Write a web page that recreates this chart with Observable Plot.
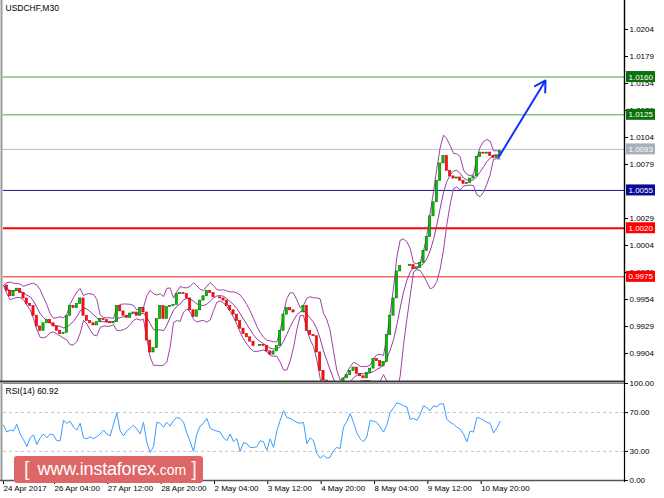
<!DOCTYPE html>
<html><head><meta charset="utf-8">
<script src="https://cdn.jsdelivr.net/npm/d3@7"></script>
<script src="https://cdn.jsdelivr.net/npm/@observablehq/plot@0.6"></script>
<style>
html,body{margin:0;padding:0;background:#fff;}
#chart{position:relative;width:664px;height:498px;overflow:hidden;font-family:"Liberation Sans",Arial,sans-serif;background:#fff;}
#chart svg{position:absolute;left:0;}
g[aria-label^="x-axis"] text{text-anchor:start;}
#wm{position:absolute;left:14px;top:456px;width:189px;height:27px;background:rgb(222,102,102);border-radius:3px;color:#fff;
  font-family:"Liberation Sans",Arial,sans-serif;display:flex;align-items:center;white-space:nowrap;}
#wm .b{font-size:20px;font-weight:300;opacity:.9;margin:0 8px 0 10px;}
#wm .b2{font-size:20px;opacity:.9;margin-left:5px;}
#wm .u{font-size:18px;letter-spacing:-0.2px;}
#wm .c{font-size:14px;}
</style></head><body><div id="chart"></div><script>
// ---------- data ----------
const symbolTitle = "USDCHF,M30";
const rsiTitle = "RSI(14) 60.92";
// closes of 2-hour bars
const closes = [0.9967,0.9962,0.9957,0.9962,0.9964,0.9960,0.9955,0.9950,0.9948,0.9939,
0.9929,0.9925,0.9932,0.9935,0.9932,0.9929,0.9925,0.9922,0.9923,0.9939,
0.9948,0.9946,0.9950,0.9955,0.9939,0.9934,0.9932,0.9930,0.9933,0.9936,
0.9935,0.9933,0.9932,0.9933,0.9948,0.9943,0.9939,0.9937,0.9941,0.9942,
0.9939,0.9946,0.9942,0.9916,0.9905,0.9909,0.9936,0.9948,0.9936,0.9947,
0.9948,0.9949,0.9959,0.9960,0.9959,0.9955,0.9944,0.9938,0.9944,0.9953,
0.9957,0.9962,0.9960,0.9956,0.9956,0.9955,0.9953,0.9948,0.9944,0.9940,
0.9934,0.9927,0.9922,0.9919,0.9915,0.9911,0.9911,0.9912,0.9911,0.9906,
0.9903,0.9906,0.9911,0.9925,0.9940,0.9946,0.9944,0.9942,0.9942,0.9942,
0.9948,0.9925,0.9921,0.9920,0.9905,0.9888,0.9879,0.9873,0.9869,0.9869,
0.9871,0.9874,0.9881,0.9884,0.9888,0.9891,0.9885,0.9883,0.9881,0.9886,
0.9890,0.9899,0.9897,0.9892,0.9896,0.9921,0.9939,0.9955,0.9980,0.9985,
0.9985,0.9985,0.9986,0.9982,0.9983,0.9988,0.9999,1.0012,1.0031,1.0044,
1.0064,1.0080,1.0087,1.0073,1.0068,1.0066,1.0067,1.0064,1.0061,1.0062,
1.0066,1.0068,1.0086,1.0090,1.0089,1.0090,1.0087,1.0085,1.0087,1.0091];
const rsi = [57,50,52,51,58,48,42,35,44,47,
37,44,48,44,48,47,41,41,62,59,
61,55,52,59,44,43,45,43,45,48,
52,48,46,58,70,51,46,51,54,57,
53,48,60,39,29,35,60,59,55,60,
56,62,65,64,60,49,40,30,48,56,
59,64,54,52,51,50,44,41,48,40,
43,30,39,38,34,34,35,41,40,31,
43,34,51,62,72,65,64,62,60,59,
60,38,44,41,28,23,26,23,24,31,
34,33,55,61,69,60,49,43,40,45,
62,61,60,55,50,57,70,75,80,79,
77,76,63,64,62,68,77,75,72,77,
76,79,79,63,60,58,55,53,48,40,
51,50,65,64,62,60,59,49,54,60.92];
const levelValues = [1.0160, 1.0125, 1.0093, 1.0055, 1.0020, 0.9975];
const priceTicks = [1.0204,1.0179,1.0154,1.0129,1.0104,1.0079,1.0029,1.0004,0.9979,0.9954,0.9929,0.9904];
const rsiTicks = [0, 30, 70, 100];
const rsiLevels = [30, 70];
const timeTickBars = [0, 15.3, 31.3, 47.3, 63.3, 79.3, 95.3, 111.3, 127.3, 143.3];
const timeTickLabels = ["24 Apr 2017","26 Apr 04:00","27 Apr 12:00","28 Apr 20:00","2 May 04:00","3 May 12:00","4 May 20:00","8 May 04:00","9 May 12:00","10 May 20:00"];
const arrowFrom = [148.5, 1.00855];
const arrowTo = [162.6, 1.01568];
const bbPeriod = 6;

// ---------- styles ----------
const levelStroke = ["#3f9f3f","#4fa84f","#b8c0c8","#1a1a8c","#ff0000","#ff1a1a"];
const levelWidth = [1,1,1,1,2,1];
const levelBox = ["#0b720b","#0b720b","#a7b0ba","#0a0a96","#ff0000","#ff0000"];
const NS = "http://www.w3.org/2000/svg";
function el(tag, attrs){const e=document.createElementNS(NS,tag);for(const k in attrs)e.setAttribute(k,attrs[k]);return e;}

// ---------- derived ----------
const candles = closes.map((c,i)=>({i, open: i ? closes[i-1] : c, close: c}));
const bands = closes.map((_,i)=>{
  const w = closes.slice(Math.max(0,i-bbPeriod+1), i+1);
  const m = d3.mean(w);
  const sd = Math.sqrt(d3.mean(w, v=>(v-m)**2));
  return {i, mid:m, up:m+2*sd, lo:m-2*sd};
});
const labelOf = new Map(timeTickBars.map((t,i)=>[t, timeTickLabels[i]]));
const xDomain = [0, 186.3];
const baseStyle = {fontFamily:'"Liberation Sans", Arial, sans-serif', fontSize:"8px", color:"#000", background:"transparent", overflow:"visible"};

function mainDecor(index, scales, values, dims){
  const g = el("g",{"text-anchor":"start"});
  const r = dims.width - dims.marginRight, b = dims.height - dims.marginBottom;
  g.append(el("line",{x1:1.5,x2:1.5,y1:0,y2:dims.height,stroke:"#9a9a9a","stroke-width":2}));
  g.append(el("line",{x1:r+0.5,x2:r+0.5,y1:0,y2:dims.height,stroke:"#000","stroke-width":1.4}));
  g.append(el("line",{x1:0,x2:r,y1:b+0.5,y2:b+0.5,stroke:"#3a3a3a","stroke-width":2}));
  levelValues.forEach((v,i)=>{
    const yy = scales.y(v);
    g.append(el("rect",{x:r+2,y:yy-5.5,width:29,height:11,fill:levelBox[i]}));
    const t = el("text",{x:r+4.5,y:yy+3,fill:"#fff","font-size":8,"text-anchor":"start"});
    t.textContent = d3.format(".4f")(v);
    g.append(t);
  });
  return g;
}
function rsiDecor(index, scales, values, dims){
  const g = el("g",{});
  const r = dims.width - dims.marginRight, b = dims.height - dims.marginBottom;
  g.append(el("line",{x1:1.5,x2:1.5,y1:0,y2:b,stroke:"#9a9a9a","stroke-width":2}));
  g.append(el("line",{x1:r+0.5,x2:r+0.5,y1:0,y2:b+2,stroke:"#000","stroke-width":1.2}));
  g.append(el("line",{x1:0,x2:r,y1:b+0.5,y2:b+0.5,stroke:"#555","stroke-width":1.5}));
  return g;
}

const main = Plot.plot({
  width: 664, height: 382, marginTop: 2, marginBottom: 1, marginLeft: 3, marginRight: 40,
  x: {domain: xDomain, axis: null},
  y: {domain: [0.98781, 1.0229], axis: "right", ticks: priceTicks, tickFormat: d=>d.toFixed(4), tickSize: 3, tickPadding: 2, label: null},
  style: baseStyle,
  marks: [
    ...levelValues.map((v,i)=>Plot.ruleY([v], {stroke: levelStroke[i], strokeWidth: levelWidth[i]})),
    Plot.lineY(bands, {x:"i", y:"up", stroke:"#a040a8", strokeWidth:1, clip:true}),
    Plot.lineY(bands, {x:"i", y:"mid", stroke:"#9a3aa0", strokeWidth:1, clip:true}),
    Plot.lineY(bands, {x:"i", y:"lo", stroke:"#a040a8", strokeWidth:1, clip:true}),
    Plot.rect(candles, {x1: d=>d.i-0.33, x2: d=>d.i+0.33, y1:"open", y2:"close",
      fill: d=>d.close>=d.open ? "#00c800" : "#ff1010",
      stroke: d=>d.close>=d.open ? "#006a00" : "#d00000", strokeWidth: 0.6, clip:true}),
    Plot.arrow([{x1: arrowFrom[0], y1: arrowFrom[1], x2: arrowTo[0], y2: arrowTo[1]}],
      {x1:"x1", y1:"y1", x2:"x2", y2:"y2", stroke:"#1030ff", strokeWidth:2, headLength:9}),
    Plot.text([symbolTitle], {frameAnchor:"top-left", text:d=>d, dx:2, dy:2, lineAnchor:"top", textAnchor:"start", fontSize:8.5, fill:"#000"}),
    mainDecor
  ]
});
main.style.top = "0px";

const rsiPlot = Plot.plot({
  width: 664, height: 116, marginTop: 1, marginBottom: 18, marginLeft: 3, marginRight: 40,
  x: {domain: xDomain, ticks: timeTickBars, tickFormat: d=>labelOf.get(d), tickSize: 4, tickPadding: 1, label: null},
  y: {domain: [0, 100], axis: "right", ticks: rsiTicks, tickFormat: d=>d.toFixed(2), tickSize: 3, tickPadding: 2, label: null},
  style: baseStyle,
  marks: [
    Plot.ruleY(rsiLevels, {stroke:"#c4c4c4", strokeDasharray:"3,3"}),
    Plot.ruleY([100], {stroke:"#888", strokeWidth:1}),
    Plot.lineY(rsi, {x:(d,i)=>i, y:d=>d, stroke:"#3b9cff", strokeWidth:1}),
    Plot.text([rsiTitle], {frameAnchor:"top-left", text:d=>d, dx:2, dy:4, lineAnchor:"top", textAnchor:"start", fontSize:8.5, fill:"#000"}),
    rsiDecor
  ]
});
rsiPlot.style.top = "382px";

const chart = document.getElementById("chart");
chart.append(main, rsiPlot);
const wm = document.createElement("div");
wm.id = "wm";
wm.innerHTML = '<span class="b">[</span><span class="u">www.instaforex</span><span class="c">.com</span><span class="b2">]</span>';
chart.append(wm);
</script></body></html>
